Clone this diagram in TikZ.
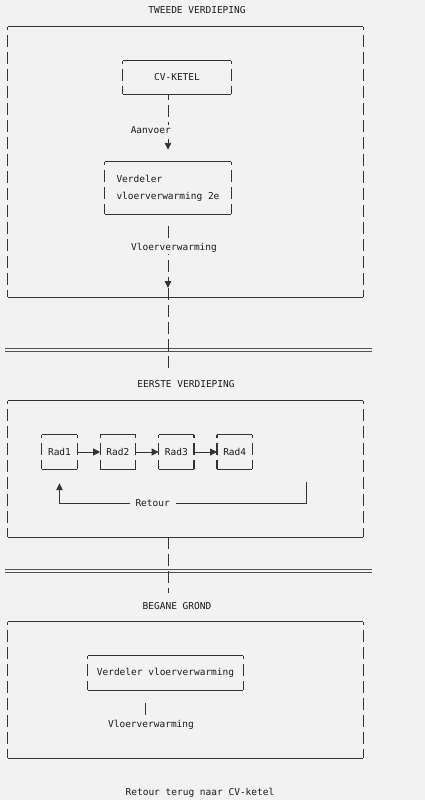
\documentclass[tikz,border=0pt]{standalone}
\usepackage{fontspec}
\setmonofont{DejaVu Sans Mono}
\usepackage{xcolor}
\usetikzlibrary{arrows.meta}
\usetikzlibrary{positioning}
\definecolor{paper}{HTML}{F2F2F2}
\definecolor{ink}{HTML}{1A1A1A}
\definecolor{rule}{HTML}{333333}

\begin{document}
\begin{tikzpicture}[x=1pt,y=-1pt]
\tikzset{every node/.style={font=\ttfamily\fontsize{9.5}{17}\selectfont,text=ink},
kader/.style={rectangle,inner sep=0pt},
floor/.style={kader,minimum width=355pt,minimum height=136pt},
radiator/.style={kader,minimum width=35pt,minimum height=34pt},
rim/.style={draw=rule,line width=1pt},
side/.style={draw=rule,line width=1.1pt,dash pattern=on 12pt off 5pt,dash phase=9pt},
pipe/.style={draw=rule,line width=0.9pt,dash pattern=on 12pt off 5pt},
flow/.style={pipe,-{Triangle[width=6.5pt,length=7pt]}},
tag/.style={fill=paper,inner sep=1pt},
plafond/.style={draw=rule!85,line width=0.8pt,double=paper,double distance=1.8pt}}
\fill[paper](0,0) rectangle (425,800);
\useasboundingbox (0,0) rectangle (425,800);

% tweede verdieping
\node(tweede) at (197,10){TWEEDE VERDIEPING};
\node[floor,minimum height=270pt](fl2) at (185.5,162){};
\node[kader,minimum width=108pt,minimum height=33pt](ketel) at (177,77.5){CV-KETEL};
\node[kader,minimum width=126pt,minimum height=52pt,align=left](verd2) at (168,188){Verdeler\\vloerverwarming 2e};

% eerste verdieping
\node(eerste) at (186,384){EERSTE VERDIEPING};
\node[floor](fl1) at (185.5,469){};
\node[radiator](rad1) at (59.5,452){Rad1};
\node[radiator](rad2)[right=23pt of rad1]{Rad2};
\node[radiator](rad3)[right=23pt of rad2]{Rad3};
\node[radiator](rad4)[right=23pt of rad3]{Rad4};
\coordinate(retin) at (306,482);

% begane grond
\node(begane) at (177,606){BEGANE GROND};
\node[floor](fl0) at (185.5,690){};
\node[kader,minimum width=155pt,minimum height=34pt](verd0) at (165.5,673){Verdeler vloerverwarming};
\node(vloer0) at (151,725){Vloerverwarming};
\node(terug) at (200,793){Retour terug naar CV-ketel};

% kaders
\foreach \b in {fl2,ketel,verd2,fl1,rad1,rad2,rad3,rad4,fl0,verd0}{
  \draw[rim](\b.north west) -- (\b.north east);
  \draw[rim](\b.south west) -- (\b.south east);
  \draw[side](\b.north west) -- (\b.south west);
  \draw[side](\b.north east) -- (\b.south east);
}
\draw[plafond](5,350) -- (372,350);
\draw[plafond](5,571) -- (372,571);

% leidingen
\coordinate(drop2) at (168,288);
\draw[flow,dash phase=6pt,shorten >=12pt](ketel.south -| verd2.north) -- (verd2.north);
\draw[flow,shorten <=12pt](verd2.south) -- (drop2);
\draw[pipe,shorten >=6pt](drop2) -- (drop2 |- eerste.north);
\draw[pipe,shorten >=6pt](fl1.south -| drop2) -- (drop2 |- begane.north);
\foreach \a/\z in {rad1/rad2,rad2/rad3,rad3/rad4}
  \draw[rim,-{Triangle[width=7pt,length=7pt]}](\a) -- (\z);
\draw[rim,-{Triangle[width=6.5pt,length=7pt]},shorten >=14pt](retin) -- ++(0,21) -| node[tag,inner xsep=6pt,pos=0.311]{Retour} (rad1.south);
\coordinate(bar0) at ([xshift=-6pt]vloer0.north);
\draw[rim,shorten <=2pt,shorten >=13pt](bar0) -- (bar0 |- verd0.south);

% labels op de leiding
\node[tag,anchor=east](aanvoer) at (172,130){Aanvoer};
\node[tag](vloer2) at (174,248){Vloerverwarming};
\end{tikzpicture}
\end{document}
